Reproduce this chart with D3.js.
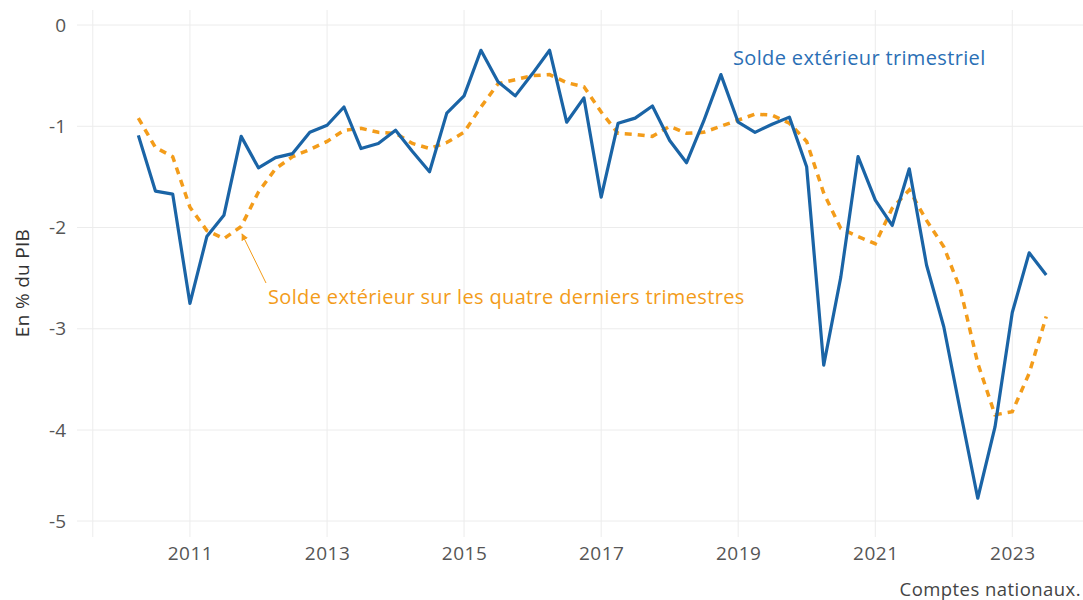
<!DOCTYPE html>
<html>
<head>
<meta charset="utf-8">
<script src="https://cdn.jsdelivr.net/npm/d3@7"></script>
<style>
  body { margin: 0; background: #fff; }
  text { font-family: "Open Sans", sans-serif; }
</style>
</head>
<body>
<div id="canvas"></div>
<script>
var width = 1083,
    height = 600;

// trimestres, 2010T2 -> 2023T3
var quarters = [
  "2010-04", "2010-07", "2010-10",
  "2011-01", "2011-04", "2011-07", "2011-10",
  "2012-01", "2012-04", "2012-07", "2012-10",
  "2013-01", "2013-04", "2013-07", "2013-10",
  "2014-01", "2014-04", "2014-07", "2014-10",
  "2015-01", "2015-04", "2015-07", "2015-10",
  "2016-01", "2016-04", "2016-07", "2016-10",
  "2017-01", "2017-04", "2017-07", "2017-10",
  "2018-01", "2018-04", "2018-07", "2018-10",
  "2019-01", "2019-04", "2019-07", "2019-10",
  "2020-01", "2020-04", "2020-07", "2020-10",
  "2021-01", "2021-04", "2021-07", "2021-10",
  "2022-01", "2022-04", "2022-07", "2022-10",
  "2023-01", "2023-04", "2023-07"
];

// solde extérieur trimestriel (en % du PIB)
var soldeTrim = [
  -1.09, -1.64, -1.67,
  -2.75, -2.09, -1.88, -1.10,
  -1.41, -1.31, -1.27, -1.06,
  -0.99, -0.81, -1.22, -1.17,
  -1.04, -1.25, -1.45, -0.87,
  -0.70, -0.25, -0.56, -0.70,
  -0.48, -0.25, -0.96, -0.72,
  -1.70, -0.97, -0.92, -0.80,
  -1.14, -1.36, -0.95, -0.49,
  -0.96, -1.06, -0.98, -0.91,
  -1.40, -3.36, -2.49, -1.30,
  -1.73, -1.98, -1.42, -2.37,
  -2.98, -3.83, -4.75, -3.97,
  -2.84, -2.25, -2.47
];

// solde extérieur sur les quatre derniers trimestres
var soldeAnnuel = [
  -0.92, -1.21, -1.30,
  -1.80, -2.03, -2.11, -1.99,
  -1.65, -1.42, -1.30, -1.23,
  -1.15, -1.04, -1.02, -1.06,
  -1.07, -1.17, -1.22, -1.16,
  -1.06, -0.81, -0.58, -0.54,
  -0.50, -0.49, -0.57, -0.61,
  -0.86, -1.07, -1.08, -1.10,
  -1.00, -1.07, -1.06, -1.00,
  -0.94, -0.88, -0.89, -0.97,
  -1.15, -1.66, -2.01, -2.09,
  -2.16, -1.81, -1.63, -1.93,
  -2.19, -2.62, -3.34, -3.85,
  -3.82, -3.44, -2.88
];

var yTicks = [0, -1, -2, -3, -4, -5];
var xTicks = [2011, 2013, 2015, 2017, 2019, 2021, 2023];

var parseQ = d3.timeParse("%Y-%m");
var dates = quarters.map(parseQ);

var x = d3.scaleTime()
    .domain([new Date(2009, 4, 9), new Date(2024, 0, 13)])
    .range([77, 1083]);

var y = d3.scaleLinear()
    .domain([0, -4, -5])
    .range([25, 430, 521]);

var svg = d3.select("#canvas").append("svg")
    .attr("width", width)
    .attr("height", height);

var grid = svg.append("g").attr("class", "grid");

// quadrillage horizontal
grid.selectAll("line.h")
    .data(yTicks).enter()
  .append("line")
    .attr("class", "h")
    .attr("x1", 77).attr("x2", width)
    .attr("y1", function(d){ return y(d); })
    .attr("y2", function(d){ return y(d); })
    .attr("stroke", "#ececec")
    .attr("stroke-width", 1);

// quadrillage vertical (plus une ligne en bord de panneau)
var xGrid = [new Date(2009, 7, 1)].concat(xTicks.map(function(d){ return new Date(d, 0, 1); }));
grid.selectAll("line.v")
    .data(xGrid).enter()
  .append("line")
    .attr("class", "v")
    .attr("x1", function(d){ return x(d); })
    .attr("x2", function(d){ return x(d); })
    .attr("y1", 10).attr("y2", 537)
    .attr("stroke", "#ececec")
    .attr("stroke-width", 1);

// axe y
svg.append("g")
    .attr("transform", "translate(66,0)")
    .call(d3.axisLeft(y).tickValues(yTicks).tickSize(0).tickPadding(0)
      .tickFormat(function(d){ return String(d); }))
    .call(function(g){ g.select(".domain").remove(); })
    .selectAll("text")
    .attr("fill", "#555")
    .style("font-size", "19px");

// axe x
svg.append("g")
    .attr("transform", "translate(0,546)")
    .call(d3.axisBottom(x)
      .tickValues(xTicks.map(function(d){ return new Date(d, 0, 1); }))
      .tickSize(0).tickPadding(0)
      .tickFormat(d3.timeFormat("%Y")))
    .call(function(g){ g.select(".domain").remove(); })
    .selectAll("text")
    .attr("fill", "#555")
    .style("font-size", "19px")
    .style("letter-spacing", "0.5px");

// titre axe y
svg.append("text")
    .attr("transform", "translate(29,283) rotate(-90)")
    .attr("text-anchor", "middle")
    .attr("fill", "#333")
    .style("font-size", "19px")
    .style("letter-spacing", "0.3px")
    .text("En % du PIB");

var line = d3.line()
    .x(function(d){ return x(d[0]); })
    .y(function(d){ return y(d[1]); });

svg.append("path")
    .datum(dates.map(function(d, i){ return [d, soldeAnnuel[i]]; }))
    .attr("d", line)
    .attr("fill", "none")
    .attr("stroke", "#f39c1a")
    .attr("stroke-width", 3.5)
    .attr("stroke-dasharray", "7,6");

svg.append("path")
    .datum(dates.map(function(d, i){ return [d, soldeTrim[i]]; }))
    .attr("d", line)
    .attr("fill", "none")
    .attr("stroke", "#1a64a6")
    .attr("stroke-width", 3.2)
    .attr("stroke-linejoin", "round");

// annotations
svg.append("text")
    .attr("x", 733).attr("y", 65)
    .attr("fill", "#2a6fb5")
    .style("font-size", "20px")
    .style("letter-spacing", "0.35px")
    .text("Solde extérieur trimestriel");

svg.append("text")
    .attr("x", 268).attr("y", 304)
    .attr("fill", "#f39c1a")
    .style("font-size", "20px")
    .style("letter-spacing", "0.35px")
    .text("Solde extérieur sur les quatre derniers trimestres");

svg.append("defs").append("marker")
    .attr("id", "arrow")
    .attr("viewBox", "0 0 10 10")
    .attr("refX", 9).attr("refY", 5)
    .attr("markerWidth", 7).attr("markerHeight", 7)
    .attr("orient", "auto")
  .append("path")
    .attr("d", "M0,0L10,5L0,10z")
    .attr("fill", "#f39c1a");

svg.append("line")
    .attr("x1", 266).attr("y1", 283)
    .attr("x2", 242).attr("y2", 234)
    .attr("stroke", "#f39c1a")
    .attr("stroke-width", 1)
    .attr("marker-end", "url(#arrow)");

// source
svg.append("text")
    .attr("x", 1081).attr("y", 596)
    .attr("text-anchor", "end")
    .attr("fill", "#444")
    .style("font-size", "18.5px")
    .style("letter-spacing", "0.45px")
    .text("Comptes nationaux.");
</script>
</body>
</html>
